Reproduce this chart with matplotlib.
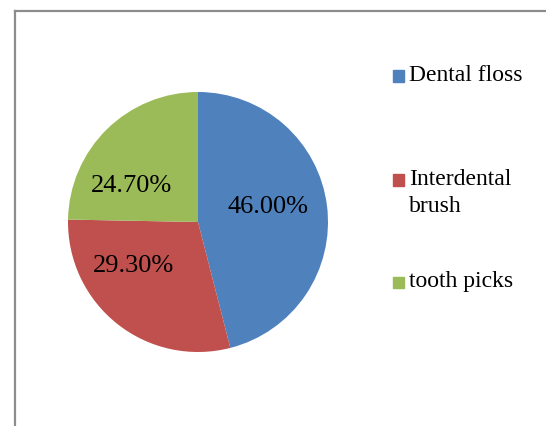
import numpy as np
import matplotlib.pyplot as plt
from matplotlib.lines import Line2D
from matplotlib.patches import Rectangle

# datos del grafico
labels = ['Dental floss', 'Interdental\nbrush', 'tooth picks']
values = [46.0, 29.3, 24.7]
colors = ['#4F81BD', '#C0504D', '#9BBB59']

plt.rcParams['font.family'] = ['Liberation Serif', 'DejaVu Serif']

W, H = 546, 426
fig = plt.figure(figsize=(W / 100, H / 100), dpi=100)

# pie centrado en (198, 222) px con radio 130
cx, cy, r = 198, 222, 130
ax = fig.add_axes([(cx - r) / W, (H - cy - r) / H, 2 * r / W, 2 * r / H])
wedges, texts, autotexts = ax.pie(values, colors=colors, startangle=90, counterclock=False,
                                  autopct='%.2f%%', pctdistance=0.6,
                                  textprops={'fontsize': 19, 'color': 'black'},
                                  wedgeprops={'linewidth': 0})
ax.set_xlim(-1, 1)
ax.set_ylim(-1, 1)
ax.set_aspect('equal')

# posiciones de las etiquetas como en la imagen (px relativos al centro)
label_pos = [(70, 15), (-65, -44), (-67, 36)]
for t, (dx, dy) in zip(autotexts, label_pos):
    t.set_position((dx / r, dy / r))
    t.set_ha('center')
    t.set_va('center')

# leyenda manual
leg_y = [76, 180, 282]
for lab, col, y in zip(labels, colors, leg_y):
    fig.patches.append(Rectangle((393 / W, 1 - (y + 5.5) / H), 11 / W, 11 / H,
                                 transform=fig.transFigure, color=col))
    fig.text(409 / W, 1 - (y - 11) / H, lab, fontsize=17, va='top', ha='left',
             linespacing=1.4)

# borde del area del grafico (solo arriba e izquierda visibles)
fig.add_artist(Line2D([14.5 / W, 14.5 / W], [0, 1 - 10.5 / H], color='#8c8c8c', lw=1.6,
                      transform=fig.transFigure))
fig.add_artist(Line2D([14.5 / W, 1], [1 - 10.5 / H, 1 - 10.5 / H], color='#8c8c8c', lw=1.6,
                      transform=fig.transFigure))

fig.savefig('out.png', dpi=100)
